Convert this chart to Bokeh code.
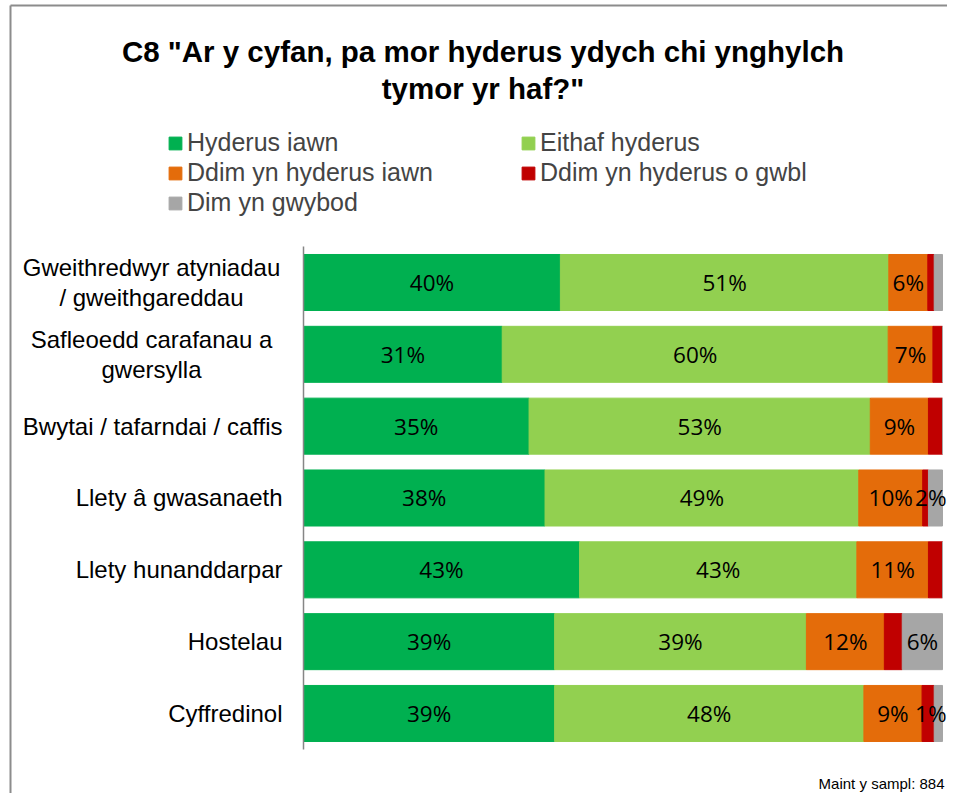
from bokeh.plotting import figure
from bokeh.models import ColumnDataSource, Range1d, Legend, LegendItem
from bokeh.core.properties import value
from bokeh.embed import file_html
from bokeh.resources import INLINE

# ---------------- data ----------------
categories = [
    "Gweithredwyr atyniadau\n/ gweithgareddau",
    "Safleoedd carafanau a\ngwersylla",
    "Bwytai / tafarndai / caffis",
    "Llety â gwasanaeth",
    "Llety hunanddarpar",
    "Hostelau",
    "Cyffredinol",
]
series = ["Hyderus iawn", "Eithaf hyderus", "Ddim yn hyderus iawn",
          "Ddim yn hyderus o gwbl", "Dim yn gwybod"]
hyderus_iawn = [40.2, 31.1, 35.3, 37.8, 43.2, 39.3, 39.3]
eithaf_hyderus = [51.4, 60.4, 53.4, 49.1, 43.4, 39.4, 48.4]
ddim_hyderus_iawn = [6.1, 7.0, 9.1, 10.0, 11.2, 12.2, 9.1]
ddim_hyderus_gwbl = [1.0, 1.5, 2.2, 0.9, 2.2, 2.8, 1.9]
dim_gwybod = [1.3, 0.0, 0.0, 2.2, 0.0, 6.3, 1.3]
# which segments carry a data label in the original
labelled = [
    [True] * 7,
    [True] * 7,
    [True] * 7,
    [False] * 7,
    [False, False, False, True, False, True, True],
]
title_text = 'C8 "Ar y cyfan, pa mor hyderus ydych chi ynghylch\ntymor yr haf?"'
sample_text = "Maint y sampl: 884"

colors = ["#00B050", "#92D050", "#E46C0A", "#C00000", "#A6A6A6"]
values = [hyderus_iawn, eithaf_hyderus, ddim_hyderus_iawn, ddim_hyderus_gwbl, dim_gwybod]
keys = ["s0", "s1", "s2", "s3", "s4"]

# ---------------- layout constants (pixels on canvas) ----------------
PLOT_W, PLOT_H = 947, 793
X0_PX, X100_PX = 303, 942
ROW0_PX, ROW_STEP = 282, 71.83
SX = (X100_PX - X0_PX) / 100.0
XMIN = -X0_PX / SX
XMAX = (PLOT_W - X0_PX) / SX
YTOP = -ROW0_PX / ROW_STEP
YBOT = (PLOT_H - ROW0_PX) / ROW_STEP


def cx(px):
    return XMIN + px / SX


def cy(py):
    return YTOP + py / ROW_STEP


p = figure(width=PLOT_W, height=PLOT_H, output_backend="svg", toolbar_location=None,
           x_range=Range1d(XMIN, XMAX), y_range=Range1d(YBOT, YTOP),
           x_axis_location=None, y_axis_location=None, min_border=0,
           outline_line_color=None, background_fill_color="white",
           border_fill_color="white")
p.xgrid.visible = False
p.ygrid.visible = False

rows = list(range(len(categories)))
data = {"y": rows}
for k, v in zip(keys, values):
    data[k] = v
src = ColumnDataSource(data)

renderers = p.hbar_stack(keys, y="y", height=0.78, color=colors, source=src)

# data labels (narrow end segments are anchored to the bar end so they stay visible)
lx, ly, lt = [], [], []
ex, ey, et = [], [], []
for i in rows:
    left = 0.0
    for s, v in enumerate(values):
        right = left + v[i]
        if labelled[s][i] and v[i] > 0:
            txt = f"{round(v[i])}%"
            if right > 99.9 and v[i] < 4:
                ex.append(right)
                ey.append(i)
                et.append(txt)
            else:
                lx.append((left + right) / 2)
                ly.append(i)
                lt.append(txt)
        left = right
p.text(x=lx, y=ly, text=lt, text_align="center", text_baseline="middle",
       text_font=value("Open Sans"), text_font_size="22.5px", text_color="#000000")
p.text(x=ex, y=ey, text=et, text_align="right", text_baseline="middle", x_offset=4,
       text_font=value("Open Sans"), text_font_size="22.5px", text_color="#000000")

# category axis line
p.segment(x0=[0], y0=[-0.5], x1=[0], y1=[len(categories) - 0.5],
          line_color="#868686", line_width=1.5)

# category labels
single = [i for i, c in enumerate(categories) if "\n" not in c]
multi = [i for i, c in enumerate(categories) if "\n" in c]
p.text(x=[0] * len(single), y=single, text=[categories[i] for i in single],
       x_offset=-21, text_align="right", text_baseline="middle",
       text_font=value("Liberation Sans"), text_font_size="24px", text_color="#000000")
p.text(x=[0] * len(multi), y=multi, text=[categories[i] for i in multi],
       x_offset=-152, text_align="center", text_baseline="middle", text_line_height=1.12,
       text_font=value("Liberation Sans"), text_font_size="24px", text_color="#000000")

# title
p.text(x=[cx(482.5)], y=[cy(69.5)], text=[title_text], text_align="center",
       text_baseline="middle", text_line_height=1.12,
       text_font=value("Liberation Sans"), text_font_style="bold",
       text_font_size="29.5px", text_color="#000000")

# sample size note
p.text(x=[cx(944)], y=[cy(783)], text=[sample_text], text_align="right",
       text_baseline="middle", text_font=value("Liberation Sans"),
       text_font_size="15px", text_color="#000000")

# chart-area border (left and top)
p.segment(x0=[cx(10), cx(10)], y0=[cy(5), cy(5)], x1=[cx(10), cx(PLOT_W)],
          y1=[cy(PLOT_H), cy(5)], line_color="#8c8c8c", line_width=2)

legend = Legend(
    items=[LegendItem(label=s, renderers=[r]) for s, r in zip(series, renderers)],
    location=(167, PLOT_H - 217), orientation="horizontal", ncols=2,
    glyph_width=16, glyph_height=16, label_standoff=4,
    label_text_font="Liberation Sans", label_text_font_size="25px",
    spacing=1, padding=0, margin=0, label_width=332,
    border_line_color=None, background_fill_alpha=0,
)
p.add_layout(legend)

open("out.html", "w").write(file_html(p, INLINE))
